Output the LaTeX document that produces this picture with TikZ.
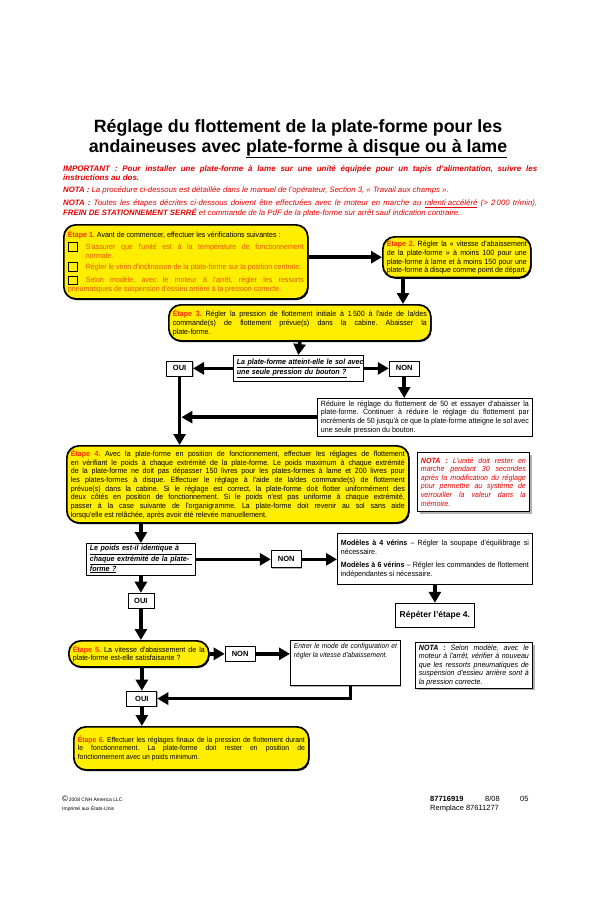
\documentclass[tikz,border=0pt]{standalone}
\usepackage{fontspec}
\setmainfont{Liberation Sans}
\newfontfamily\boxfont{Liberation Sans}[FakeStretch=0.93]
\usetikzlibrary{arrows.meta, positioning, shadows}
\definecolor{etapeyellow}{RGB}{255,238,0}
\definecolor{etapered}{RGB}{255,45,0}
\definecolor{checkorange}{RGB}{228,88,0}
\definecolor{notered}{RGB}{232,0,0}
\frenchspacing
\hyphenpenalty=10000
\exhyphenpenalty=10000
\emergencystretch=6pt
\newcommand{\etape}[1]{\textcolor{etapered}{\bfseries #1}}
\newcommand{\chkitem}[1]{\par\hangindent=18pt\hangafter=1\noindent
  \makebox[18pt][l]{\raisebox{-1.5pt}{\setlength{\fboxsep}{0pt}\setlength{\fboxrule}{0.9pt}%
  \fbox{\rule{0pt}{8pt}\hspace{8pt}}}}\textcolor{checkorange}{#1}}
\newcommand{\qline}[2]{\underline{\makebox[#1][s]{#2}}}

\begin{document}
\begin{tikzpicture}[x=1pt, y=-1pt,
  node distance=18pt and 20pt,
  base/.style={font=\boxfont\fontsize{7.6}{8.8}\selectfont, align=justify,
               inner xsep=4pt, inner ysep=3pt},
  stepbox/.style={base, rectangle, rounded corners=12pt, draw=black,
                  line width=1.7pt, fill=etapeyellow,
                  drop shadow={shadow xshift=0.8pt, shadow yshift=-1.2pt,
                               fill=black, opacity=1}},
  frame/.style={base, rectangle, draw=black, line width=0.8pt, fill=white,
                inner xsep=3.5pt, inner ysep=2pt},
  plain/.style={frame, drop shadow={shadow xshift=1pt, shadow yshift=-1pt,
                                    fill=gray!60, opacity=1}},
  nota/.style={frame, font=\boxfont\fontsize{7.6}{8.6}\selectfont\itshape,
               drop shadow={shadow xshift=2.5pt, shadow yshift=-2.5pt,
                            fill=gray!60, opacity=1}},
  ques/.style={plain, align=left,
               font=\boxfont\fontsize{7.6}{8.6}\selectfont\bfseries\itshape},
  choice/.style={plain, align=center, font=\fontsize{7.5}{8}\selectfont\bfseries,
                 minimum width=26pt, minimum height=15pt, inner sep=1pt},
  arr/.style={-{Triangle[length=11pt, width=12pt]}, line width=3.6pt},
  hdr/.style={anchor=north west, inner sep=0pt, text width=474pt, align=justify,
              font=\fontsize{7.8}{9.2}\selectfont\itshape, text=notered},
  foot/.style={anchor=west, inner sep=0pt},
]
  \useasboundingbox[fill=white] (0,0) rectangle (600,906);

  % title and notes
  \node[align=center, font=\fontsize{17.8}{19.5}\selectfont\bfseries] (title) at (298,139)
    {Réglage du flottement de la plate-forme pour les\\
     andaineuses avec \underline{plate-forme à disque ou à lame}};
  \node[hdr, font=\fontsize{8}{9.2}\selectfont\bfseries\itshape] (imp) at (63,165)
    {IMPORTANT : Pour installer une plate-forme à lame sur une unité équipée
     pour un tapis d'alimentation, suivre les\linebreak instructions au dos.};
  \node[hdr] (nota0) at (63,187)
    {\textbf{NOTA :} La procédure ci-dessous est détaillée dans le manuel de l'opérateur,
     Section 3, «~Travail aux champs~».};
  \node[hdr] (nota00) at (63,200)
    {\textbf{NOTA :} Toutes les étapes décrites ci-dessous doivent être effectuées avec le
     moteur en marche au \underline{ralenti accéléré} (> 2\,000 tr/min),\linebreak
     \textbf{FREIN DE STATIONNEMENT SERRÉ} et commande de la PdF de la plate-forme sur
     arrêt sauf indication contraire.};

  % steps 1 to 3
  \node[stepbox, anchor=north west, text width=236pt, minimum height=74pt] (e1) at (63,224)
    {\etape{Étape 1}. Avant de commencer, effectuer les vérifications suivantes :\par\vspace{2.5pt}
     \chkitem{S'assurer que l'unité est à la température de fonctionnement\linebreak
              normale.}\par\vspace{2.5pt}
     \chkitem{Régler le vérin d'inclinaison de la plate-forme sur la position centrale.}\par\vspace{2.5pt}
     \chkitem{Selon modèle, avec le moteur à l'arrêt, régler les ressorts\linebreak
              pneumatiques de suspension d'essieu arrière à la pression correcte.}};
  \node[stepbox, anchor=north west, text width=140pt, minimum height=40pt] (e2) at (382,236)
    {\etape{Étape 2.} Régler la «~vitesse d'abaissement\linebreak de la plate-forme~» à moins
     100 pour une\linebreak plate-forme à lame et à moins 150 pour une\linebreak plate-forme à
     disque comme point de départ.};
  \node[stepbox, anchor=north west, text width=254pt, minimum height=36pt] (e3) at (168,304)
    {\etape{Étape 3.} Régler la pression de flottement initiale à 1\,500 à l'aide de
     la/des\linebreak commande(s) de flottement prévue(s) dans la cabine. Abaisser
     la\linebreak plate-forme.};

  \node[ques, anchor=north west, text width=123pt, minimum height=26pt] (q1) at (233,355)
    {\qline{123pt}{La plate-forme atteint-elle le sol avec}\\
     \underline{une seule pression du bouton ?}};
  \node[choice, left=40pt of q1] (oui1) {OUI};
  \node[choice, right=25pt of q1, minimum width=30pt] (non1) {NON};
  \node[plain, anchor=north west, text width=208pt, minimum height=36pt] (red1) at (317,398)
    {Réduire le réglage du flottement de 50 et essayer d'abaisser la\linebreak plate-forme.
     Continuer à réduire le réglage du flottement par\linebreak incréments de 50 jusqu'à ce
     que la plate-forme atteigne le sol avec\linebreak une seule pression du bouton.};

  % step 4
  \node[stepbox, font=\boxfont\fontsize{7.6}{8.7}\selectfont, anchor=north west,
        text width=334pt, minimum height=77pt] (e4) at (66,445)
    {\etape{Étape 4.} Avec la plate-forme en position de fonctionnement, effectuer les réglages
     de flottement\linebreak en vérifiant le poids à chaque extrémité de la plate-forme. Le
     poids maximum à chaque extrémité\linebreak de la plate-forme ne doit pas dépasser 150
     livres pour les plates-formes à lame et 200 livres pour\linebreak les plates-formes à
     disque. Effectuer le réglage à l'aide de la/des commande(s) de flottement\linebreak
     prévue(s) dans la cabine. Si le réglage est correct, la plate-forme doit flotter
     uniformément des\linebreak deux côtés en position de fonctionnement. Si le poids n'est
     pas uniforme à chaque extrémité,\linebreak passer à la case suivante de l'organigramme.
     La plate-forme doit revenir au sol sans aide\linebreak lorsqu'elle est relâchée, après
     avoir été relevée manuellement.};
  \node[nota, text=notered, anchor=north west, text width=105pt, minimum height=59pt] (nota1) at (417,452)
    {\textbf{NOTA :} L'unité doit rester en marche pendant 30 secondes après la modification
     du réglage pour permettre au système de verrouiller la valeur dans la mémoire.};

  \node[ques, anchor=north west, text width=102pt, minimum height=29pt] (q2) at (86,543)
    {\qline{102pt}{Le poids est-il identique à}\\
     \qline{102pt}{chaque extrémité de la plate-}\\
     \underline{forme ?}};
  \node[choice, right=75pt of q2, minimum width=30pt, minimum height=17pt] (non2) {NON};
  \node[choice, below=17pt of q2] (oui2) {OUI};
  \node[plain, anchor=north west, text width=188pt, minimum height=51pt] (mod) at (337,533)
    {\textbf{Modèles à 4 vérins} – Régler la soupape d'équilibrage si nécessaire.\par\vspace{4pt}
     \textbf{Modèles à 6 vérins} – Régler les commandes de flottement indépendantes si
     nécessaire.};
  \node[plain, align=center, font=\fontsize{8.5}{10}\selectfont\bfseries,
        minimum width=79pt, minimum height=24pt, below=18pt of mod] (rep) {Répéter l'étape 4.};

  % steps 5 and 6
  \node[stepbox, anchor=north west, text width=132pt, minimum height=26pt] (e5) at (68,640)
    {\etape{Étape 5.} La vitesse d'abaissement de la plate-forme est-elle satisfaisante ?};
  \node[choice, right=15pt of e5, minimum width=30pt] (non3) {NON};
  \node[choice, below=23pt of e5, xshift=3pt, minimum width=30pt] (oui3) {OUI};
  \node[plain, font=\boxfont\fontsize{7.2}{8.6}\selectfont\itshape, align=justify,
        anchor=north west, text width=103pt, text depth=34pt, inner ysep=3pt] (ent) at (290,640)
    {Entrer le mode de configuration et\linebreak régler la vitesse d'abaissement.};
  \node[nota, anchor=north west, text width=110pt, minimum height=42pt] (nota2) at (415,642)
    {\textbf{NOTA :} Selon modèle, avec le moteur à l'arrêt, vérifier à nouveau que les
     ressorts pneumatiques de suspension d'essieu arrière sont à la pression correcte.};
  \node[stepbox, font=\boxfont\fontsize{7.3}{8.8}\selectfont, anchor=north west,
        text width=227pt, minimum height=43pt] (e6) at (73,726)
    {\etape{Étape 6.} Effectuer les réglages finaux de la pression de flottement
     durant\linebreak le fonctionnement. La plate-forme doit rester en position
     de\linebreak fonctionnement avec un poids minimum.};

  % connectors
  \draw[arr] (e1.east |- e2.west) -- (e2.west);
  \draw[arr] ([xshift=21pt]e2.south west) -- ([xshift=21pt]e2.south west |- e3.north);
  \draw[arr] (e3.south) -- (q1.north);
  \draw[arr] (q1.west) -- (oui1.east);
  \draw[arr] (q1.east) -- (non1.west);
  \draw[arr] (non1.south) -- (non1.south |- red1.north);
  \draw[arr] (red1.west) -- ([xshift=1.8pt]oui1.south |- red1.west);
  \draw[arr] (oui1.south) -- (oui1.south |- e4.north);
  \draw[arr] (q2.north |- e4.south) -- (q2.north);
  \draw[arr] (q2.east) -- (non2.west);
  \draw[arr] (non2.east) -- (non2.east -| mod.west);
  \draw[arr] (rep.north |- mod.south) -- (rep.north);
  \draw[arr] (q2.south) -- (oui2.north);
  \draw[arr] (oui2.south) -- (oui2.south |- e5.north);
  \draw[arr] (e5.east) -- (non3.west);
  \draw[arr] (non3.east) -- (non3.east -| ent.west);
  \draw[arr] ([xshift=5pt]ent.south) |- (oui3.east);
  \draw[arr] (oui3.north |- e5.south) -- (oui3.north);
  \draw[arr] (oui3.south) -- (oui3.south |- e6.north);

  % footer
  \node[foot, font=\fontsize{5}{6}\selectfont] (copy) at (62,799)
    {{\fontsize{8}{8}\selectfont\textcopyright}\,2008 CNH America LLC};
  \node[foot, font=\fontsize{5}{6}\selectfont] (printed) at (62,809) {Imprimé aux États-Unis};
  \node[foot, font=\fontsize{7.5}{9}\selectfont\bfseries] (partno) at (430,799) {87716919};
  \node[foot, font=\fontsize{7.5}{9}\selectfont] (date) at (485,799) {8/08};
  \node[foot, font=\fontsize{7.5}{9}\selectfont] (rev) at (520,799) {05};
  \node[foot, font=\fontsize{7.5}{9}\selectfont] (repl) at (430,809) {Remplace 87611277};
\end{tikzpicture}
\end{document}
